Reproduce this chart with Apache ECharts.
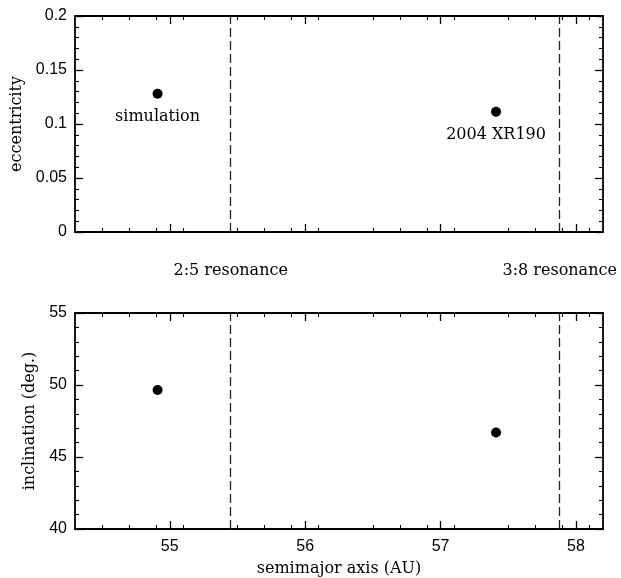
<!DOCTYPE html>
<html><head><meta charset="utf-8">
<script src="https://cdn.jsdelivr.net/npm/echarts@6/dist/echarts.min.js"></script>
<style>html,body{margin:0;padding:0;background:#fff}#c{width:621px;height:578px}</style>
</head><body><div id="c"></div>
<script>
// Data
const pointNames = ['simulation', '2004 XR190'];
const semimajor = [54.91, 57.41];
const eccentricity = [0.128, 0.1114];
const inclination = [49.65, 46.7];
const resonanceNames = ['2:5 resonance', '3:8 resonance'];
const resonanceA = [55.45, 57.88];
const xTicks = [55, 56, 57, 58];

const chart = echarts.init(document.getElementById('c'));
const SANS = 'Liberation Sans';
const SERIF = 'DejaVu Serif';
const black = '#000';

function xAxisDef(grid, pos, showLabels, withName) {
  return {
    type: 'value', gridIndex: grid, position: pos, min: 54.3, max: 58.2, interval: 1,
    axisLine: { show: true, onZero: false, lineStyle: { color: black, width: 1.8 } },
    axisTick: { show: true, inside: true, length: 8, lineStyle: { color: black, width: 1.3 },
      customValues: xTicks },
    minorTick: { show: true, splitNumber: 5, length: 4, lineStyle: { color: black, width: 1.1 } },
    splitLine: { show: false },
    axisLabel: { show: showLabels, color: black, fontFamily: SANS, fontSize: 16, margin: 10,
      customValues: xTicks },
    name: withName ? 'semimajor axis (AU)' : '', nameLocation: 'middle', nameGap: 32,
    nameTextStyle: { color: black, fontFamily: SERIF, fontSize: 16 }
  };
}
function yAxisDef(grid, pos, min, max, interval, showLabels, name, gap) {
  return {
    type: 'value', gridIndex: grid, position: pos, min: min, max: max, interval: interval,
    axisLine: { show: true, onZero: false, lineStyle: { color: black, width: 1.8 } },
    axisTick: { show: true, inside: true, length: 8, lineStyle: { color: black, width: 1.3 } },
    minorTick: { show: true, splitNumber: 5, length: 4, lineStyle: { color: black, width: 1.1 } },
    splitLine: { show: false },
    axisLabel: { show: showLabels, color: black, fontFamily: SANS, fontSize: 16, margin: 8 },
    name: name, nameLocation: 'middle', nameGap: gap, nameRotate: 90,
    nameTextStyle: { color: black, fontFamily: SERIF, fontSize: 16 }
  };
}

function pts(yArr) {
  return semimajor.map((x, i) => ({ value: [x, yArr[i]], name: pointNames[i] }));
}

const option = {
  backgroundColor: '#fff',
  animation: false,
  grid: [
    { left: 75, top: 16, width: 528, height: 216 },
    { left: 75, top: 313, width: 528, height: 216 }
  ],
  xAxis: [
    xAxisDef(0, 'bottom', false, false),
    xAxisDef(0, 'top', false, false),
    xAxisDef(1, 'bottom', true, true),
    xAxisDef(1, 'top', false, false)
  ],
  yAxis: [
    yAxisDef(0, 'left', 0, 0.2, 0.05, true, 'eccentricity', 48),
    yAxisDef(0, 'right', 0, 0.2, 0.05, false, '', 0),
    yAxisDef(1, 'left', 40, 55, 5, true, 'inclination (deg.)', 37),
    yAxisDef(1, 'right', 40, 55, 5, false, '', 0)
  ],
  series: [
    {
      type: 'scatter', xAxisIndex: 0, yAxisIndex: 0, symbol: 'circle', symbolSize: 10,
      itemStyle: { color: black, opacity: 1 },
      data: pts(eccentricity),
      label: { show: true, position: 'bottom', distance: 10, formatter: p => p.name,
        color: black, fontFamily: SERIF, fontSize: 16 },
      markLine: {
        silent: true, symbol: 'none', animation: false,
        lineStyle: { color: '#222', type: [9, 4], width: 1.3 },
        label: { show: false },
        data: resonanceA.map(a => ({ xAxis: a }))
      }
    },
    {
      type: 'scatter', xAxisIndex: 2, yAxisIndex: 2, symbol: 'circle', symbolSize: 10,
      itemStyle: { color: black, opacity: 1 },
      data: pts(inclination),
      markLine: {
        silent: true, symbol: 'none', animation: false,
        lineStyle: { color: '#222', type: [9, 4], width: 1.3 },
        label: { show: true, position: 'end', distance: 34, formatter: p => p.name,
          color: black, fontFamily: SERIF, fontSize: 16 },
        data: resonanceA.map((a, i) => ({ xAxis: a, name: resonanceNames[i] }))
      }
    }
  ]
};
chart.setOption(option);
</script></body></html>
